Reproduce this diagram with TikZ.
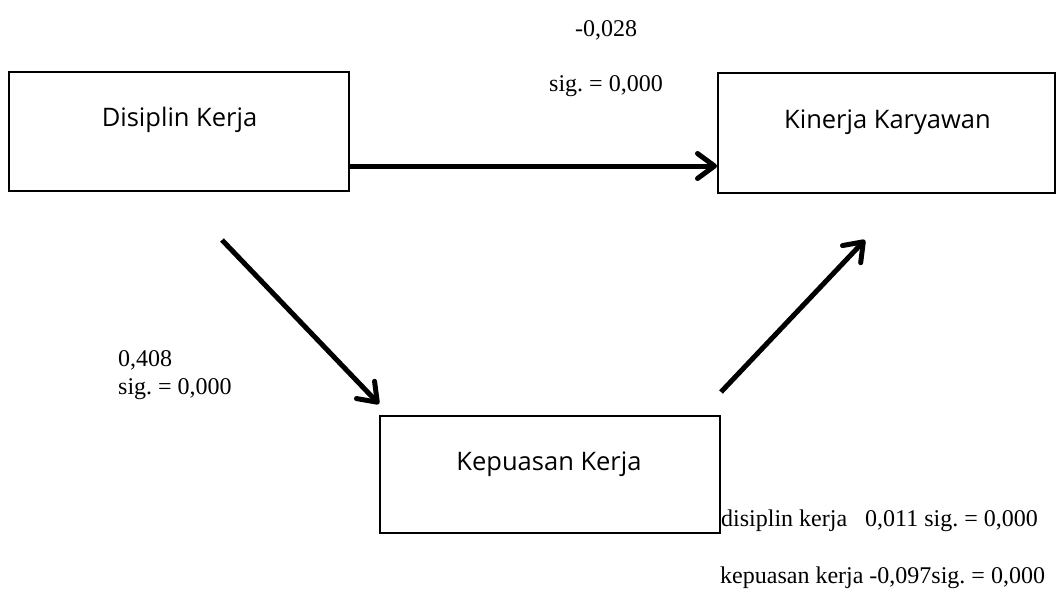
\documentclass[tikz,border=0pt]{standalone}
\usepackage{fontspec}
\setmainfont{Liberation Serif}
\newfontfamily\boxfont{Open Sans}
\usetikzlibrary{arrows.meta}
\frenchspacing
\begin{document}
\begin{tikzpicture}[x=1pt,y=-1pt,
  varbox/.style={draw, line width=2pt, inner sep=0pt, minimum width=340pt, minimum height=119pt},
  boxtext/.style={anchor=base, inner sep=0pt, font=\boxfont\fontsize{25.5}{30}\selectfont},
  coef/.style={anchor=base west, inner sep=0pt, font=\fontsize{24}{28}\selectfont},
  path arrow/.style={line width=5pt, -{Straight Barb[length=17pt,width=25pt,round]}}]
\useasboundingbox (0,0) rectangle (1057,592);

% variable boxes
\node[varbox] (dk) at (179,131.5) {};
\node[varbox, minimum width=337pt, minimum height=120pt] (kk) at (886.5,133) {};
\node[varbox, minimum height=117pt] (kp) at (550,474.5) {};

\node[boxtext] (dkt) at (179.5,126) {Disiplin Kerja};
\node[boxtext] (kkt) at (887.5,128) {Kinerja Karyawan};
\node[boxtext] (kpt) at (549,470) {Kepuasan Kerja};

% path arrows
\coordinate (hline) at (0,166);
\coordinate (d1s) at (222,240);
\coordinate (d2e) at (865,240);
\draw[path arrow] (dk.east |- hline) -- (kk.west |- hline);
\draw[path arrow] (d1s) -- ([yshift=11pt]kp.north west);
\draw[path arrow] ([yshift=23pt]kp.north east) -- (d2e);

% coefficients
\node[coef] (c1) at (575,36) {-0,028};
\node[coef] (s1) at (549,91) {sig. = 0,000};
\node[coef] (c2) at (118,366) {0,408};
\node[coef] (s2) at (118,394) {sig. = 0,000};
\node[coef] (c3) at (721,526) {disiplin kerja\hspace{0.75em}0,011 sig. = 0,000};
\node[coef] (c4) at (720,583) {kepuasan kerja -0,097sig. = 0,000};
\end{tikzpicture}
\end{document}
